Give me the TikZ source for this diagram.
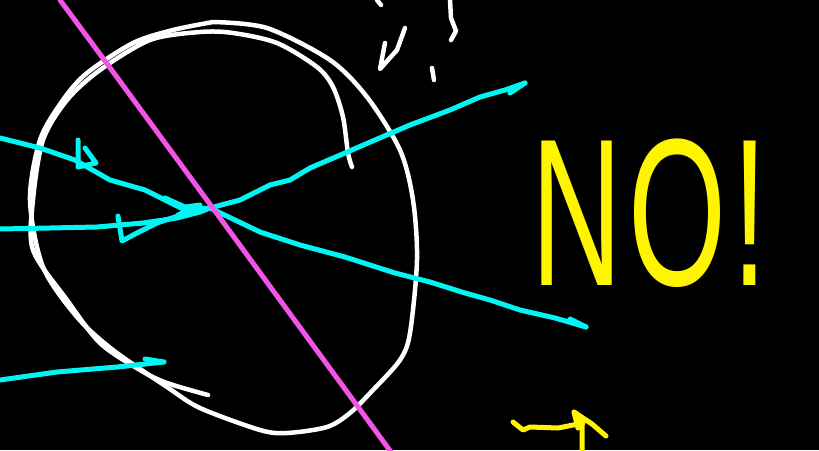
\documentclass[tikz,border=0pt]{standalone}
\usepackage{fontspec}
\setmainfont{Liberation Sans}
\usepackage{tikz}
\usetikzlibrary{calc}
\definecolor{raycyan}{HTML}{00F6F2}
\definecolor{slashpink}{HTML}{F255E6}
\definecolor{noyellow}{HTML}{FFF500}

\begin{document}
\begin{tikzpicture}[
    x=1pt, y=-1pt,
    line join=round, line cap=round,
    chalk/.style={draw=white, line width=4.5pt},
    ray/.style={draw=raycyan, line width=5pt},
    slash/.style={draw=slashpink, line width=5pt},
    yell/.style={draw=noyellow, line width=5pt}
]

% Board
\fill[black] (0,0) rectangle (819,450);
\useasboundingbox (0,0) rectangle (819,450);

% Circle (two rough loops)
\draw[chalk] plot[smooth, tension=0.5] coordinates {
    (213,22) (267,28) (330,60) (367,97) (400,150) (413,200) (417,260)
    (410,333) (400,360) (373,390) (350,413) (327,427) (287,433) (260,430)
    (200,408) (167,387) (113,350) (77,317) (43,267) (30,200) (40,140)
    (63,100) (87,73) (133,43) (173,30) (213,22)};
\draw[chalk] plot[smooth, tension=0.5] coordinates {
    (352,167) (348,153) (343,117) (333,87) (317,67) (277,43) (233,33)
    (200,32) (150,40) (100,70) (67,100) (43,140) (33,200) (33,250)
    (67,300) (100,343) (140,370) (167,383) (208,395)};

% Scribbles at the top
\draw[chalk] (377,0) -- (381,5);
\draw[chalk] (385,43) -- (380,69) -- (397,50) -- (405,28);
\draw[chalk] (450,0) -- (451,18) -- (456,31) -- (451,40);
\draw[chalk] (432,68) -- (434,80);

% Rays
\coordinate (focus) at (210,208);
\draw[ray] (0,138) -- (40,148) -- (75,160) -- (110,180) -- (145,190)
    -- (165,200) -- (185,210) -- (focus) -- (260,232) -- (300,245)
    -- (345,257) -- (395,273) -- (430,282) -- (465,293) -- (490,300)
    -- (520,310) -- (555,318) -- (586,327);
\draw[ray] (570,319) -- (586,327);
\draw[ray] (78,140) -- (78,167) -- (96,163) -- (85,148);

\draw[ray] (0,229) -- (50,228) -- (97,227) -- (143,223) -- (177,218)
    -- (200,212) -- (focus) -- (240,200) -- (270,185) -- (290,180)
    -- (310,168) -- (345,153) -- (375,140) -- (410,125) -- (450,110)
    -- (480,97) -- (505,90) -- (525,83);
\draw[ray] (510,93) -- (525,83);
\draw[ray] (118,216) -- (122,241) -- (137,233) -- (157,223) -- (190,212);
\draw[ray] (165,198) -- (185,207) -- (200,205) -- (178,215);

\draw[ray] (0,380) -- (57,372) -- (117,367) -- (164,362);
\draw[ray] (145,359) -- (164,362);

% Slash
\draw[slash] (60,0) -- (108,65) -- (212,207) -- (391,452);

% NO!
\node[anchor=base west, inner sep=0pt, text=noyellow, xscale=0.6,
    font=\fontsize{210}{210}\selectfont\addfontfeatures{LetterSpace=5}]
    (no) at (531,285) {NO!};

% Bottom marks
\draw[yell] (513,422) -- (523,430) -- (530,427) -- (558,428) -- (583,423);
\draw[yell] (582,452) -- (582,420) -- (574,412) -- (578,428);
\draw[yell] (574,412) -- (592,424) -- (606,436);

\end{tikzpicture}
\end{document}
